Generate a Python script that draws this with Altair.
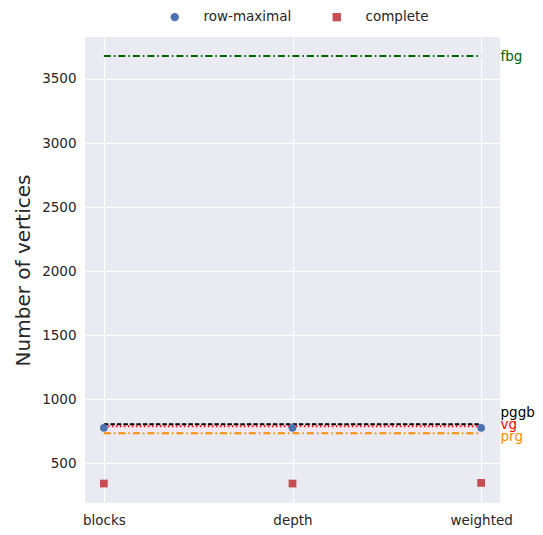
import altair as alt
import pandas as pd

categories = ["blocks", "depth", "weighted"]
row_maximal = [775, 775, 775]
complete = [340, 340, 345]

tools = ["fbg", "pggb", "vg", "prg"]
tool_values = [3680, 803, 788, 732]
tool_label_y = [3643, 859, 766, 674]

tool_colors = {"fbg": "#006400", "pggb": "black", "vg": "red", "prg": "#FF8C00"}
tool_dash = {"fbg": [7, 3, 1.5, 3], "pggb": [4.5, 2], "vg": [1.5, 2.5], "prg": [7, 3, 1.5, 3]}

pts = pd.DataFrame({
    "x": list(range(len(categories))) * 2,
    "value": row_maximal + complete,
    "kind": ["row-maximal"] * 3 + ["complete"] * 3,
})

xscale = alt.Scale(domain=[-0.1, 2.1], nice=False, zero=False)
yscale = alt.Scale(domain=[188, 3828], nice=False, zero=False)

label_expr = "[" + ",".join(f"'{c}'" for c in categories) + "][datum.value]"

x_axis = alt.Axis(values=[0, 1, 2], labelExpr=label_expr, title=None, grid=True,
                  gridColor="white", gridWidth=1, domain=False, ticks=False,
                  labelFontSize=13.5, labelColor="#262626", labelPadding=10, labelFont="DejaVu Sans")
y_axis = alt.Axis(values=[500, 1000, 1500, 2000, 2500, 3000, 3500], format="d", title="Number of vertices",
                  grid=True, gridColor="white", gridWidth=1, domain=False, ticks=False,
                  labelFontSize=13.5, labelColor="#262626", labelPadding=9, labelFont="DejaVu Sans",
                  titleFontSize=20, titleFont="DejaVu Sans", titleFontWeight="normal",
                  titleColor="#262626", titlePadding=8)

layers = []
base_axes = alt.Chart(pts).mark_point(opacity=0).encode(
    x=alt.X("x:Q", scale=xscale, axis=x_axis),
    y=alt.Y("value:Q", scale=yscale, axis=y_axis),
)
layers.append(base_axes)

for t, v, ly in zip(tools, tool_values, tool_label_y):
    d = pd.DataFrame({"x": [0], "x2": [len(categories) - 1], "value": [v], "ly": [ly], "tool": [t], "xe": [2.1]})
    rule = alt.Chart(d).mark_rule(color=tool_colors[t], strokeDash=tool_dash[t], strokeWidth=2).encode(
        x=alt.X("x:Q", scale=xscale), x2="x2:Q", y=alt.Y("value:Q", scale=yscale))
    txt = alt.Chart(d).mark_text(color=tool_colors[t], align="left", baseline="alphabetic", dx=0.5,
                                 fontSize=13.5, font="DejaVu Sans", clip=False).encode(
        x=alt.X("xe:Q", scale=xscale), y=alt.Y("ly:Q", scale=yscale), text="tool:N")
    layers += [rule, txt]

points = alt.Chart(pts).mark_point(filled=True, opacity=1, size=60).encode(
    x=alt.X("x:Q", scale=xscale),
    y=alt.Y("value:Q", scale=yscale),
    color=alt.Color("kind:N", scale=alt.Scale(domain=["row-maximal", "complete"], range=["#4C72B0", "#C44E52"]),
                    legend=alt.Legend(title=None, orient="none", direction="horizontal", legendX=83, legendY=-27,
                                      labelFontSize=13.5, labelFont="DejaVu Sans", labelColor="#262626",
                                      symbolSize=70, labelOffset=22, columnPadding=38, symbolStrokeWidth=0)),
    shape=alt.Shape("kind:N", scale=alt.Scale(domain=["row-maximal", "complete"], range=["circle", "square"]),
                    legend=None),
)
layers.append(points)

chart = alt.layer(*layers).properties(
    width=415, height=466,
    autosize=alt.AutoSizeParams(type="none"),
    padding={"left": 77, "top": 29, "right": 35, "bottom": 30},
).configure_view(fill="#EAEAF2", stroke=None)

chart.save("out.html", embed_options={"renderer": "svg", "actions": False})
